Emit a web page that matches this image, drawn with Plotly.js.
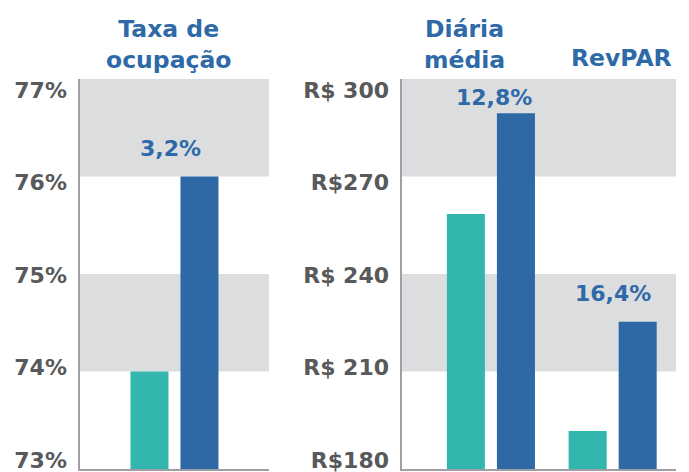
<!DOCTYPE html>
<html>
<head>
<meta charset="utf-8">
<script src="https://cdn.plot.ly/plotly-3.0.1.min.js"></script>
<style>html,body{margin:0;padding:0;background:#fff;}#chart{width:689px;height:472px;}</style>
</head>
<body>
<div id="chart"></div>
<script>
// ---- data ----
const categoriesLeft = ['Taxa de ocupação'];
const categoriesRight = ['Diária média', 'RevPAR'];
const occPrev = [74.0];
const occCurr = [76.0];
const revPrev = [258.5, 191.7];
const revCurr = [289.5, 225.3];
const growthLeft = ['3,2%'];
const growthRight = ['12,8%', '16,4%'];
const leftTicks = [73, 74, 75, 76, 77];
const leftTickText = ['73%', '74%', '75%', '76%', '77%'];
const rightTicks = [180, 210, 240, 270, 300];
const rightTickText = ['R$180', 'R$ 210', 'R$ 240', 'R$270', 'R$ 300'];
const titlesLeft = ['Taxa de<br>ocupação'];
const titlesRight = ['Diária<br>média', 'RevPAR'];

// ---- styles ----
const TEAL = '#33b6ae', BLUE = '#2e69a6', BAND = '#dcdddf', AXIS = '#a0a0a4';
const TXT_BLUE = '#2e69a8', TXT_GRAY = '#58595b';
const FONT = '"DejaVu Sans", sans-serif';

const traces = [
  {type:'bar', x:categoriesLeft, y:occPrev, xaxis:'x', yaxis:'y', marker:{color:TEAL}, hoverinfo:'skip'},
  {type:'bar', x:categoriesLeft, y:occCurr, xaxis:'x', yaxis:'y', marker:{color:BLUE}, hoverinfo:'skip'},
  {type:'bar', x:categoriesRight, y:revPrev, xaxis:'x2', yaxis:'y2', marker:{color:TEAL}, hoverinfo:'skip'},
  {type:'bar', x:categoriesRight, y:revCurr, xaxis:'x2', yaxis:'y2', marker:{color:BLUE}, hoverinfo:'skip'},
  {type:'scatter', x:[], y:[], xaxis:'x', yaxis:'y3', hoverinfo:'skip'},
  {type:'scatter', x:[], y:[], xaxis:'x2', yaxis:'y4', hoverinfo:'skip'}
];

const yDom = [0.00636, 0.8326];
const baseX = {showline:true, linecolor:AXIS, linewidth:2, showticklabels:false, ticks:'', showgrid:false, zeroline:false, fixedrange:true, type:'category'};
const baseY = {showline:true, linecolor:AXIS, linewidth:2, showticklabels:false, ticks:'', showgrid:false, zeroline:false, fixedrange:true, domain:yDom};
const tickAx = {showline:false, showgrid:false, zeroline:false, ticks:'', ticklabelstandoff:12, ticklabeloverflow:'allow',
  tickfont:{family:FONT, size:22, color:TXT_GRAY, weight:700}, fixedrange:true, side:'left'};

const bands = [];
[[1,2],[3,4]].forEach(p => {
  bands.push({type:'rect', xref:'x domain', yref:'y', x0:0, x1:1, y0:leftTicks[p[0]], y1:leftTicks[p[1]], fillcolor:BAND, line:{width:0}, layer:'below'});
  bands.push({type:'rect', xref:'x2 domain', yref:'y2', x0:0, x1:1, y0:rightTicks[p[0]], y1:rightTicks[p[1]], fillcolor:BAND, line:{width:0}, layer:'below'});
});

const lblFont = {family:FONT, size:22, color:TXT_BLUE, weight:700};
const ttlFont = {family:FONT, size:23.5, color:TXT_BLUE, weight:700};
const annotations = [
  {xref:'x', yref:'y', x:categoriesLeft[0], y:occCurr[0], text:growthLeft[0], showarrow:false, yanchor:'middle', yshift:28, xshift:-4, font:lblFont},
  {xref:'x2', yref:'y2', x:categoriesRight[0], y:revCurr[0], text:growthRight[0], showarrow:false, yanchor:'middle', yshift:16, xshift:3, font:lblFont},
  {xref:'x2', yref:'y2', x:categoriesRight[1], y:revCurr[1], text:growthRight[1], showarrow:false, yanchor:'middle', yshift:28, font:lblFont},
  {xref:'paper', yref:'paper', x:0.2446, y:0.906, text:titlesLeft[0], showarrow:false, xanchor:'center', yanchor:'middle', font:ttlFont},
  {xref:'paper', yref:'paper', x:0.6742, y:0.906, text:titlesRight[0], showarrow:false, xanchor:'center', yanchor:'middle', font:ttlFont},
  {xref:'paper', yref:'paper', x:0.9023, y:0.878, text:titlesRight[1], showarrow:false, xanchor:'center', yanchor:'middle', font:ttlFont}
];

const layout = {
  width:689, height:472, margin:{l:0, r:0, t:0, b:0},
  paper_bgcolor:'#fff', plot_bgcolor:'rgba(0,0,0,0)',
  showlegend:false, barmode:'group', bargap:0.178, bargroupgap:0.24,
  xaxis: Object.assign({}, baseX, {domain:[0.1161, 0.3904], range:[-0.777, 0.777], anchor:'y'}),
  yaxis: Object.assign({}, baseY, {range:[leftTicks[0], leftTicks[4]], anchor:'x'}),
  xaxis2: Object.assign({}, baseX, {domain:[0.5835, 0.9811], range:[-0.73, 1.52], anchor:'y2'}),
  yaxis2: Object.assign({}, baseY, {range:[rightTicks[0], rightTicks[4]], anchor:'x2'}),
  yaxis3: Object.assign({}, tickAx, {overlaying:'y', anchor:'x', range:[72.903, 77.119], tickvals:leftTicks, ticktext:leftTickText}),
  yaxis4: Object.assign({}, tickAx, {overlaying:'y2', anchor:'x2', range:[177.08, 303.57], tickvals:rightTicks, ticktext:rightTickText}),
  shapes: bands,
  annotations: annotations
};

Plotly.newPlot('chart', traces, layout, {staticPlot:true, displayModeBar:false});
</script>
</body>
</html>
